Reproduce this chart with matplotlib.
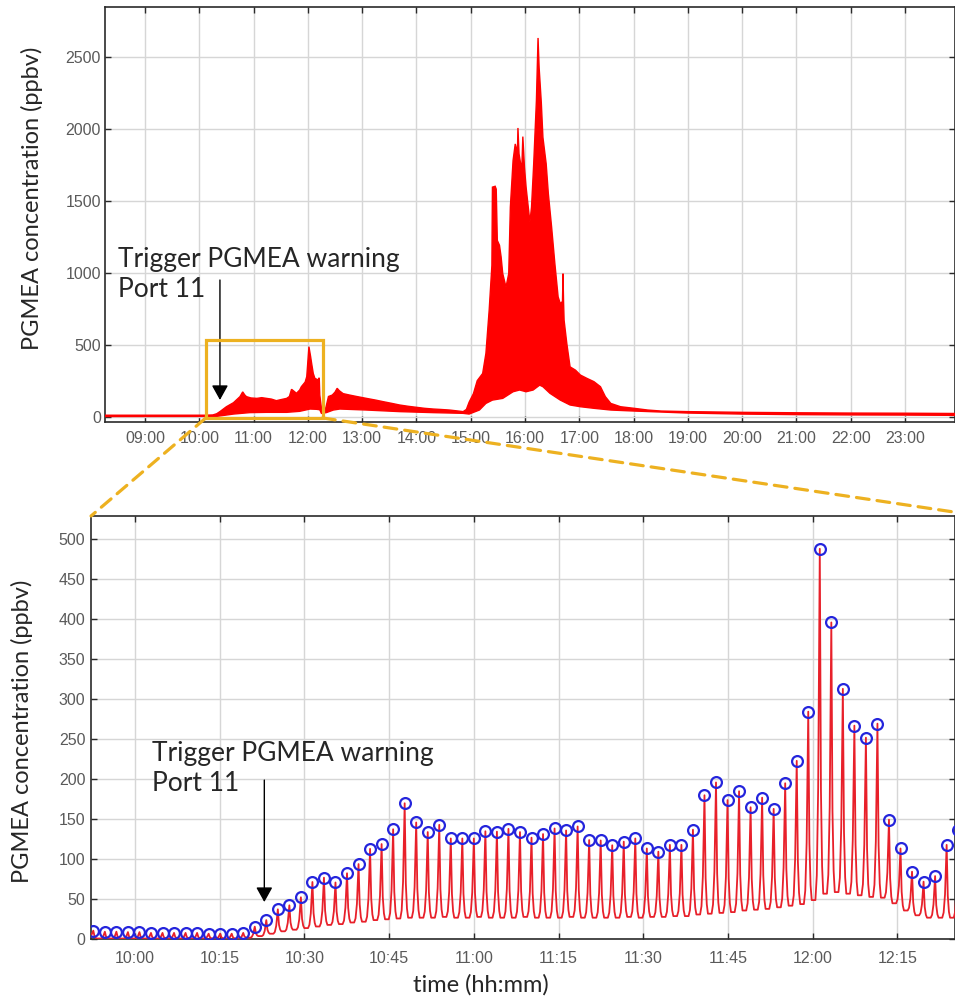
import matplotlib
matplotlib.use("Agg")
import matplotlib.pyplot as plt
import numpy as np
from matplotlib.patches import Rectangle, ConnectionPatch
from matplotlib.ticker import FuncFormatter

# ---- top panel: whole-day record, time in hours ----
# upper edge of the oscillating signal
day_up_t = [8.26, 10.10, 10.25, 10.32, 10.38, 10.50, 10.63, 10.75, 10.80, 10.84, 10.87,
            10.95, 11.06, 11.15, 11.24, 11.33, 11.42, 11.50, 11.61, 11.66, 11.70, 11.75,
            11.79, 11.85, 11.88, 11.95, 11.98, 12.02, 12.05, 12.07, 12.10, 12.13, 12.19,
            12.21, 12.22, 12.25, 12.27, 12.33, 12.38, 12.45, 12.50, 12.54, 12.58, 12.65,
            12.77, 12.90, 13.08, 13.25, 13.39, 13.55, 13.69, 13.85, 14.00, 14.15, 14.31,
            14.45, 14.61, 14.75, 14.86, 14.92, 14.97, 15.05, 15.12, 15.22, 15.28, 15.34,
            15.39, 15.40, 15.45, 15.47, 15.49, 15.53, 15.56, 15.59, 15.65, 15.70, 15.73,
            15.78, 15.82, 15.86, 15.87, 15.89, 15.94, 15.96, 15.99, 16.02, 16.09, 16.12,
            16.16, 16.21, 16.24, 16.26, 16.30, 16.33, 16.39, 16.43, 16.49, 16.55, 16.61,
            16.65, 16.69, 16.70, 16.71, 16.72, 16.77, 16.83, 16.93, 17.02, 17.14, 17.27,
            17.39, 17.48, 17.58, 17.76, 18.01, 18.26, 18.51, 19.00, 20.00, 21.00, 22.00,
            23.00, 23.95]
day_up_v = [10, 10, 12, 20, 35, 69, 97, 139, 172, 150, 139,
            130, 127, 132, 127, 122, 111, 118, 127, 140, 190, 175,
            162, 185, 208, 240, 278, 486, 420, 370, 300, 266, 255,
            270, 150, 60, 40, 60, 140, 150, 170, 197, 180, 160,
            150, 140, 127, 115, 104, 92, 81, 72, 65, 58, 53,
            50, 46, 40, 35, 50, 100, 160, 250, 300, 440, 740,
            1050, 1594, 1600, 1580, 1224, 1190, 1109, 993, 900, 993, 1455,
            1779, 1894, 1836, 2005, 1825, 1709, 1945, 1732, 1594, 1351, 1455,
            1756, 2195, 2630, 2425, 2183, 1940, 1756, 1548, 1317, 1063, 832,
            785, 800, 993, 800, 670, 508, 346, 323, 289, 266, 243,
            208, 139, 92, 69, 58, 46, 39, 35, 30, 27, 25,
            24, 22]
# lower edge of the oscillating signal
day_low_t = [8.26, 10.32, 10.63, 10.93, 11.24, 11.61, 11.85, 12.04, 12.16, 12.22, 12.25,
             12.34, 12.47, 12.59, 13.08, 13.69, 14.31, 14.86, 14.97, 15.16, 15.28, 15.40,
             15.59, 15.78, 15.90, 16.02, 16.15, 16.27, 16.33, 16.46, 16.65, 16.83, 17.02,
             17.27, 17.58, 18.01, 18.51, 19.00, 20.00, 21.00, 22.00, 23.00, 23.95]
day_low_v = [1, 2, 18, 28, 30, 30, 37, 53, 51, 48, 23,
             28, 46, 53, 46, 35, 28, 23, 18, 46, 92, 115,
             127, 173, 185, 173, 185, 219, 208, 162, 115, 81, 69,
             58, 46, 39, 32, 25, 18, 14, 12, 11, 9]

# ---- bottom panel: zoom 09:52-12:25, time in minutes after midnight ----
peak_start = 592.62   # first injection peak
peak_period = 2.042   # minutes between peaks
peak_vals = [10.8, 9.5, 9.5, 9, 9, 8, 8, 8, 8, 8, 7, 7, 7, 8,
             15.8, 24, 37.5, 42.5, 52.5, 71.6, 77, 71, 82.5, 94, 113, 119, 137.5, 170,
             146, 134, 143, 126, 126, 126, 135, 134.5, 138, 134, 127, 131.5, 138.5, 136,
             141, 124, 123.5, 117.5, 122, 126, 113.5, 109.5, 118, 118, 137, 180, 196,
             174, 185, 165, 177, 163, 195, 223, 284.5, 488, 396, 313, 267, 252, 269.5,
             149.5, 113.5, 84.5, 72, 79, 118, 136.5]
valley_vals = [1, 1, 1, 1, 1, 1, 1, 1, 1, 1, 1, 1, 1, 2,
               4, 7, 10, 12, 14, 16, 18, 19, 21, 22, 24, 25, 26, 27,
               27, 27, 28, 27, 27, 28, 27, 27, 27, 28, 27, 27, 27, 28,
               27, 27, 27, 27, 28, 27, 28, 28, 29, 29, 31, 32, 33,
               34, 36, 37, 38, 40, 42, 44, 49, 57, 59, 57, 55, 53, 52,
               45, 36, 30, 27, 27, 27, 27]

peak_times = peak_start + peak_period * np.arange(len(peak_vals))

# shape of one cycle: (fraction of period after the peak, fraction of height above valley)
fall_shape = [(0.10, 0.30), (0.20, 0.08), (0.30, 0.0)]
rise_shape = [(0.62, 0.0), (0.74, 0.07), (0.86, 0.32)]

RED = "#ff0000"
YELLOW = "#EDB120"
TICK_FONT = "Liberation Sans"
TEXT_FONT = "Lato"

fig = plt.figure(figsize=(9.55, 10), dpi=100)
ax1 = fig.add_axes([0.1099, 0.5783, 0.8901, 0.4147])
ax2 = fig.add_axes([0.0953, 0.0607, 0.9047, 0.4233])


def style_axes(ax):
    ax.set_axisbelow(True)
    ax.grid(True, color="#d6d6d6", lw=1.0)
    for s in ax.spines.values():
        s.set_color("#2a2a2a")
        s.set_linewidth(1.2)
    ax.tick_params(direction="in", top=True, right=True, length=4, width=1,
                   color="#2a2a2a", labelcolor="#5a5a5a", labelsize=11.5)
    for lab in ax.get_xticklabels() + ax.get_yticklabels():
        lab.set_family(TICK_FONT)


# top panel
poly_t = np.concatenate([day_up_t, day_low_t[::-1]])
poly_v = np.concatenate([day_up_v, day_low_v[::-1]])
ax1.fill(poly_t, poly_v, facecolor=RED, edgecolor=RED, lw=1.0, zorder=3)
ax1.set_xlim(8.263, 23.92)
ax1.set_ylim(-35, 2845)
ax1.set_xticks(np.arange(9, 24))
ax1.set_yticks([0, 500, 1000, 1500, 2000, 2500])
ax1.xaxis.set_major_formatter(FuncFormatter(lambda h, _: f"{int(round(h)):02d}:00"))
style_axes(ax1)
ax1.tick_params(axis="x", pad=7)
ax1.tick_params(axis="y", pad=3)
ax1.set_ylabel("PGMEA concentration (ppbv)", family=TEXT_FONT, fontsize=17, color="#262626")
ax1.yaxis.set_label_coords(-0.0724, 0.539)

ax1.text(8.50, 990, "Trigger PGMEA warning\nPort 11", family=TEXT_FONT, fontsize=19,
         color="#262626", ha="left", va="center", linespacing=1.25)
ax1.annotate("", xy=(10.381, 116), xytext=(10.381, 949),
             arrowprops=dict(arrowstyle="-|>,head_length=0.45,head_width=0.25",
                             color="black", lw=1.0, mutation_scale=20, shrinkA=0, shrinkB=0))

box_x0, box_x1 = 10.12, 12.27
box_y0, box_y1 = -9, 530
ax1.add_patch(Rectangle((box_x0, box_y0), box_x1 - box_x0, box_y1 - box_y0,
                        fill=False, edgecolor=YELLOW, lw=2.3, zorder=5, clip_on=False))

# bottom panel
wave_t = [peak_times[0] - 0.3 * peak_period]
wave_v = [valley_vals[0]]
for i, (t, p, v) in enumerate(zip(peak_times, peak_vals, valley_vals)):
    p_next = peak_vals[i + 1] if i + 1 < len(peak_vals) else p
    wave_t.append(t)
    wave_v.append(p)
    for f, h in fall_shape:
        wave_t.append(t + f * peak_period)
        wave_v.append(v + h * (p - v))
    for f, h in rise_shape:
        wave_t.append(t + f * peak_period)
        wave_v.append(v + h * (p_next - v))
ax2.plot(wave_t, wave_v, color="#e8202a", lw=1.3, zorder=3)
ax2.plot(peak_times, peak_vals, "o", mfc="none", mec="#2424dc", ms=7.8, mew=1.6, zorder=4)
ax2.set_xlim(592.21, 745.21)
ax2.set_ylim(0, 529)
ax2.set_xticks(np.arange(600, 745, 15))
ax2.set_yticks(np.arange(0, 501, 50))
ax2.xaxis.set_major_formatter(FuncFormatter(lambda m, _: f"{int(m // 60)}:{int(m % 60):02d}"))
style_axes(ax2)
ax2.tick_params(axis="x", pad=8.5)
ax2.tick_params(axis="y", pad=4)
ax2.set_ylabel("PGMEA concentration (ppbv)", family=TEXT_FONT, fontsize=17, color="#262626")
ax2.yaxis.set_label_coords(-0.0677, 0.491)
ax2.set_xlabel("time (hh:mm)", family=TEXT_FONT, fontsize=17, color="#262626")
ax2.xaxis.set_label_coords(0.451, -0.082)
ax2.xaxis.label.set_va("top")

ax2.text(602.96, 214, "Trigger PGMEA warning\nPort 11", family=TEXT_FONT, fontsize=19,
         color="#262626", ha="left", va="center", linespacing=1.25)
ax2.annotate("", xy=(622.9, 46.6), xytext=(622.9, 199),
             arrowprops=dict(arrowstyle="-|>,head_length=0.45,head_width=0.25",
                             color="black", lw=1.0, mutation_scale=20, shrinkA=0, shrinkB=0))

# dashed zoom connectors
for xa, xb in [(box_x0, (0.0, 1.0)), (box_x1, (1.0, 1.009))]:
    con = ConnectionPatch(xyA=(xa, box_y0), coordsA=ax1.transData,
                          xyB=xb, coordsB=ax2.transAxes,
                          color=YELLOW, lw=2.3, linestyle=(0, (4, 2.5)), zorder=6)
    fig.add_artist(con)

fig.savefig("out.png", dpi=100)
